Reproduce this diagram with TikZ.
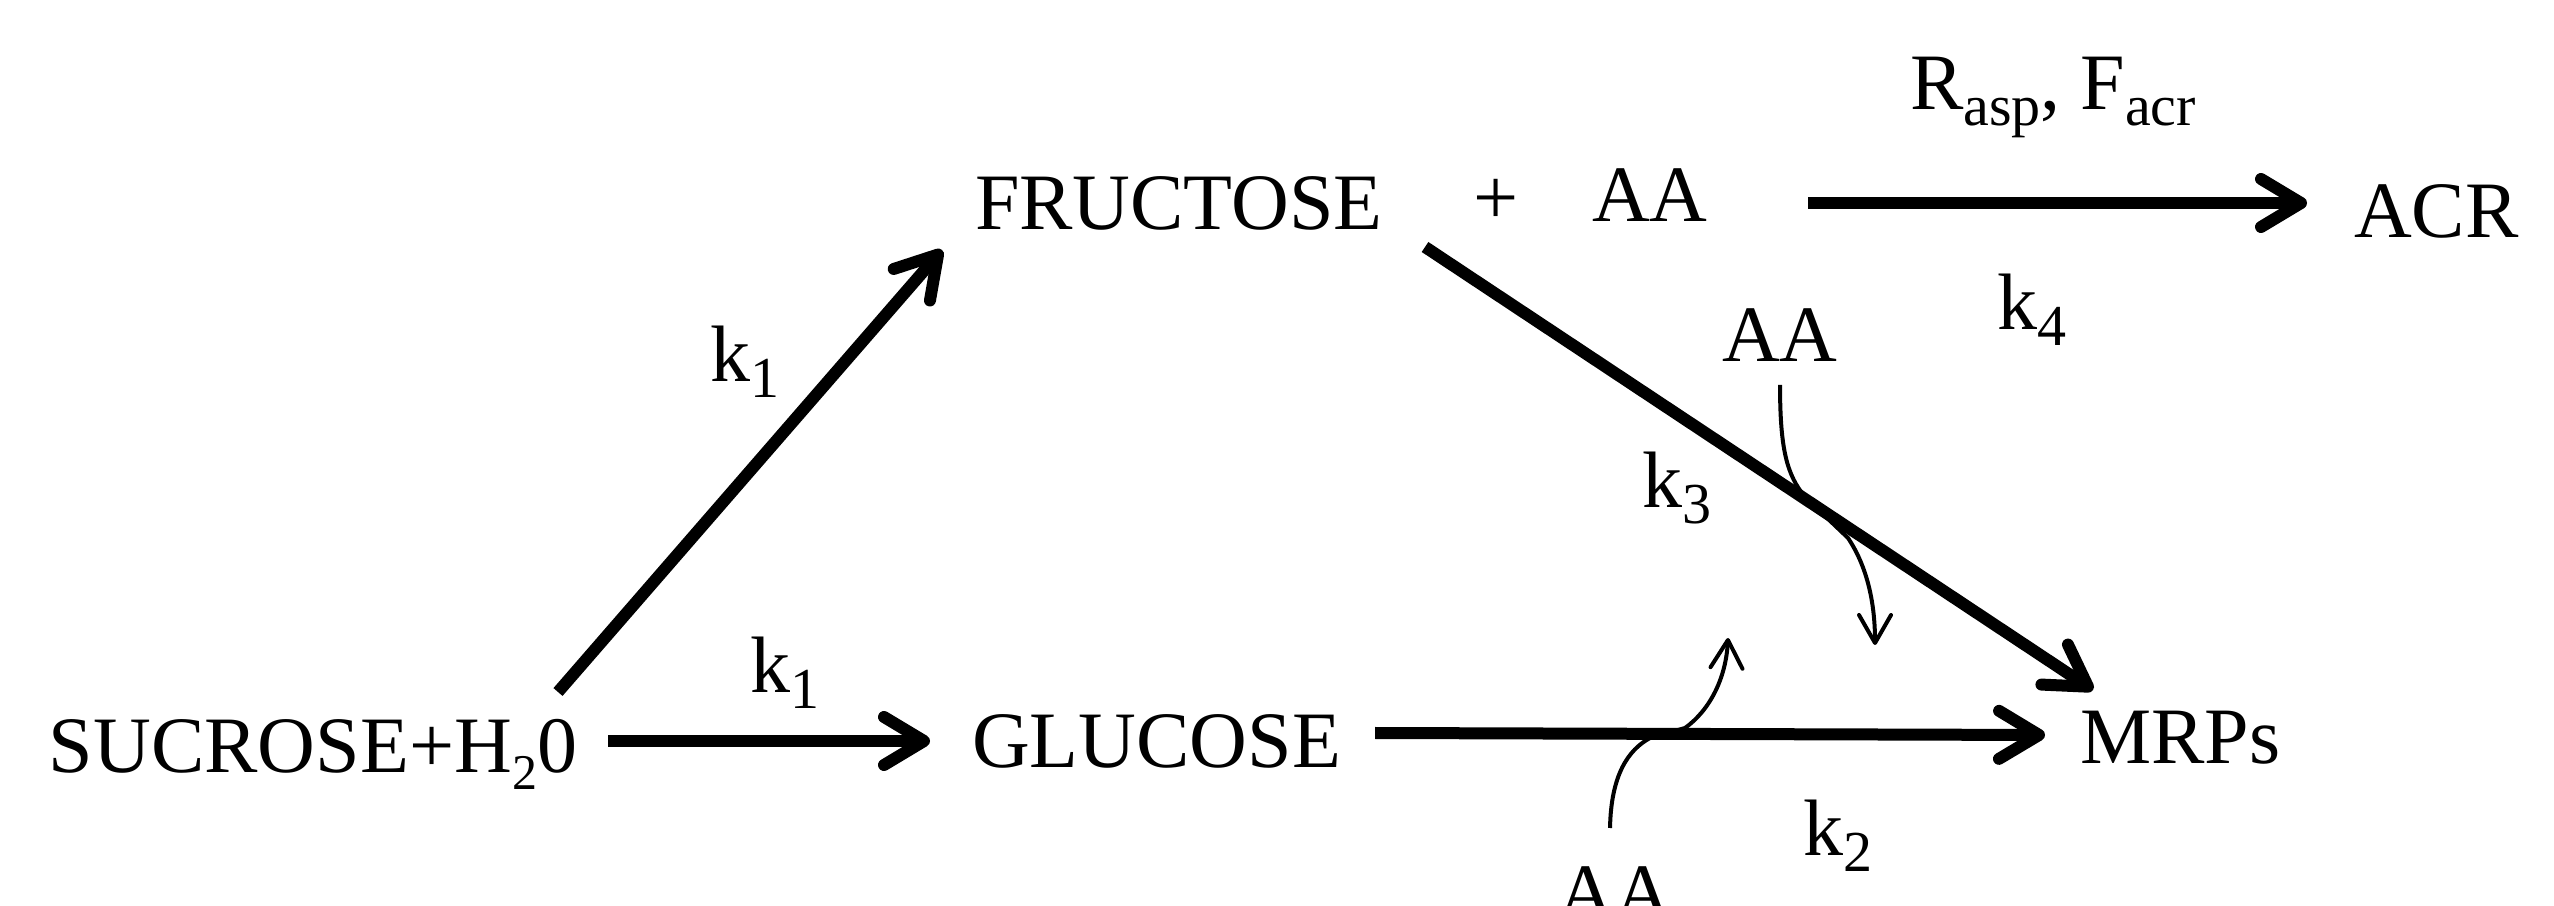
\documentclass[tikz,border=0pt]{standalone}
\usepackage{fontspec}
\setmainfont{Liberation Serif}
\usepackage{graphicx}
\usetikzlibrary{arrows.meta,calc}
\newcommand\sbs[1]{\raisebox{-4pt}{\fontsize{14.5pt}{15pt}\selectfont #1}}
\newcommand\sbh[1]{\raisebox{-4.2pt}{\fontsize{12.5pt}{13pt}\selectfont #1}}
\begin{document}
\begin{tikzpicture}[x=0.25pt,y=-0.25pt,
  lbl/.style={inner sep=0pt, outer sep=0pt, anchor=base west, font=\fontsize{20pt}{24pt}\selectfont},
  bigarrow/.style={line width=3pt, -{Straight Barb[length=10pt,width=12pt,round]}},
  thinarrow/.style={line width=1pt, -{Straight Barb[length=7pt,width=8pt,round]}}]
\useasboundingbox (0,0) rectangle (2554,906);
\clip (0,0) rectangle (2554,906);
% species
\node[lbl] (sucrose)  at (49,773)   {SUCROSE+H\sbh{2}0};
\node[lbl] (glucose)  at (972,768)  {GLUCOSE};
\node[lbl] (fructose) at (975,230)  {FRUCTOSE};
\node[lbl] (plus)     at (1473,225) {+};
\node[lbl] (aa1)      at (1592,222) {AA};
\node[lbl] (acr)      at (2354,238) {ACR};
\node[lbl] (mrps)     at (2080,763) {MRPs};
\node[lbl] (aa2)      at (1722,362) {AA};
\node[lbl] (aa3)      at (1557,919) {AA};
% rate labels
\node[lbl] (k1a) at (710,382)  {k\sbs{1}};
\node[lbl] (k1b) at (750,693)  {k\sbs{1}};
\node[lbl] (k3)  at (1642,508) {k\sbs{3}};
\node[lbl] (k2)  at (1803,855) {k\sbs{2}};
\node[lbl] (k4)  at (1997,330) {k\sbs{4}};
\node[lbl] (rf)  at (1910,110) {R\sbs{asp}, F\sbs{acr}};
% thin AA arrows
\draw[thinarrow] ($(aa2.base west)+(58,23)$) .. controls +(0,65) and +(-18,-22) .. ($(aa2.base west)+(83,135)$)
  -- ($(aa2.base west)+(126,176)$) .. controls +(18,27) and +(0,-45) .. ($(aa2.base west)+(153,283)$);
\draw[thinarrow] ($(aa3.base west)+(53,-91)$) .. controls +(1,-53) and +(-22,12) .. ($(aa3.base west)+(93,-181)$)
  -- ($(aa3.base west)+(128,-191)$) .. controls +(25,-18) and +(-2,40) .. ($(aa3.base west)+(171,-281)$);
% thick reaction arrows
\draw[bigarrow] ($(sucrose.base east)+(31,-32)$) -- ($(glucose.base west)+(-42,-27)$);
\draw[bigarrow] ($(sucrose.base west)+(509,-81)$) -- ($(fructose.base west)+(-33,20)$);
\draw[bigarrow] ($(glucose.base west)+(403,-35)$) -- ($(mrps.base west)+(-35,-28)$);
\draw[bigarrow] ($(fructose.base west)+(450,17)$) -- ($(mrps.base west)+(13,-73)$);
\draw[bigarrow] ($(aa1.base west)+(216,-19)$) -- ($(acr.base west)+(-47,-35)$);
\end{tikzpicture}
\end{document}
